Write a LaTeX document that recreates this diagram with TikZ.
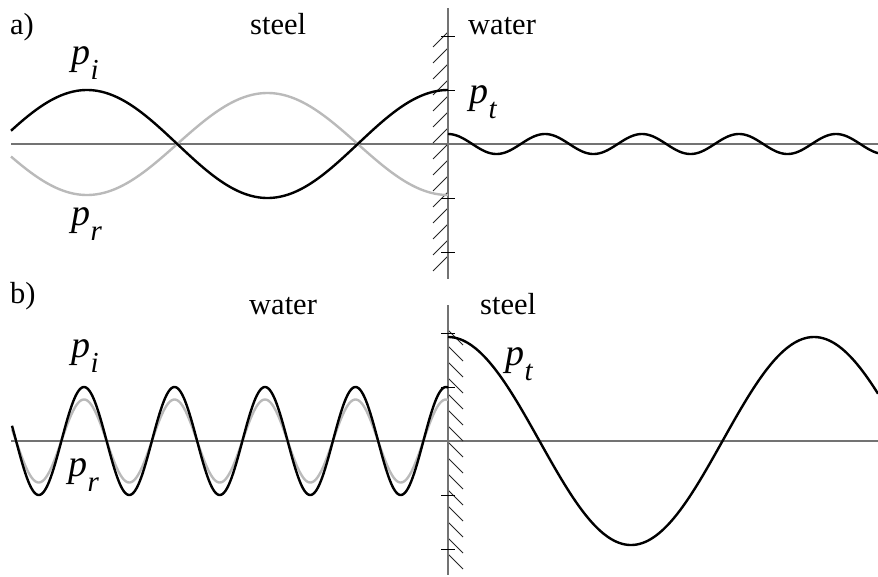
\documentclass[tikz,border=0pt]{standalone}
\usepackage{fontspec}
\setmainfont{Liberation Serif}
\newcommand{\plab}[1]{{\fontsize{38}{38}\selectfont\itshape p\kern0.5pt\raisebox{-15pt}{\fontsize{29}{29}\selectfont\itshape #1}}}
\begin{document}
\begin{tikzpicture}[x=1pt,y=-1pt,
  axisline/.style={draw=black!55,line width=1.4pt},
  tickline/.style={draw=black,line width=1pt},
  hatchline/.style={draw=black!85,line width=0.9pt},
  wavek/.style={draw=black,line width=2.4pt},
  waveg/.style={draw=black!27,line width=2.4pt},
  lbl/.style={inner sep=0pt,anchor=base west,font=\fontsize{30.5}{30.5}\selectfont},
  plbl/.style={inner sep=0pt,anchor=base west}]
\useasboundingbox (0,0) rectangle (878,576);
% ---------- panel a ----------
\coordinate (aL) at (11,144);
\coordinate (aR) at (878,144);
\coordinate (aT) at (448,8);
\coordinate (aB) at (448,279);
\draw[axisline] (aL) -- (aR);
\foreach \yy in {32,48,...,256}{
  \draw[hatchline] (448,\yy) -- (433,\yy+15);
}
\draw[axisline] (aT) -- (aB);
\foreach \yy in {36,90,198,252}{
  \draw[tickline] (441,\yy) -- (455,\yy);
}
\draw[waveg] plot[domain=11:448,samples=200] (\x,{144+51*cos((\x-448)/361*360)});
\draw[wavek] plot[domain=11:448,samples=200] (\x,{144-54*cos((\x-448)/361*360)});
\draw[wavek] plot[domain=448:878,samples=300] (\x,{144-10*cos((\x-448)/97*360)});
\node[lbl] (la) at (10,34) {a)};
\node[lbl] (sa) at (250,34) {steel};
\node[lbl] (wa) at (468,34) {water};
\node[plbl] (pia) at (71,64) {\plab{i}};
\node[plbl] (pra) at (71,225) {\plab{r}};
\node[plbl] (pta) at (469,103) {\plab{t}};
% ---------- panel b ----------
\coordinate (bL) at (11,441);
\coordinate (bR) at (878,441);
\coordinate (bT) at (448,305);
\coordinate (bB) at (448,575);
\draw[axisline] (bL) -- (bR);
\foreach \yy in {330,346,...,554}{
  \draw[hatchline] (448,\yy) -- (463,\yy+15);
}
\draw[axisline] (bT) -- (bB);
\foreach \yy in {333,387,495,549}{
  \draw[tickline] (441,\yy) -- (455,\yy);
}
\draw[waveg] plot[domain=12:448,samples=400] (\x,{441-41.5*cos((\x-446)/90.5*360)});
\draw[wavek] plot[domain=12:448,samples=400] (\x,{441-54*cos((\x-446)/90.5*360)});
\draw[wavek] plot[domain=448:878,samples=300] (\x,{441-104*cos((\x-448)/366*360)});
\node[lbl] (lb) at (10,303) {b)};
\node[lbl] (wb) at (249,314) {water};
\node[lbl] (sb) at (480,314) {steel};
\node[plbl] (pib) at (71,357) {\plab{i}};
\node[plbl] (prb) at (68,476) {\plab{r}};
\node[plbl] (ptb) at (505,365) {\plab{t}};
\end{tikzpicture}
\end{document}
